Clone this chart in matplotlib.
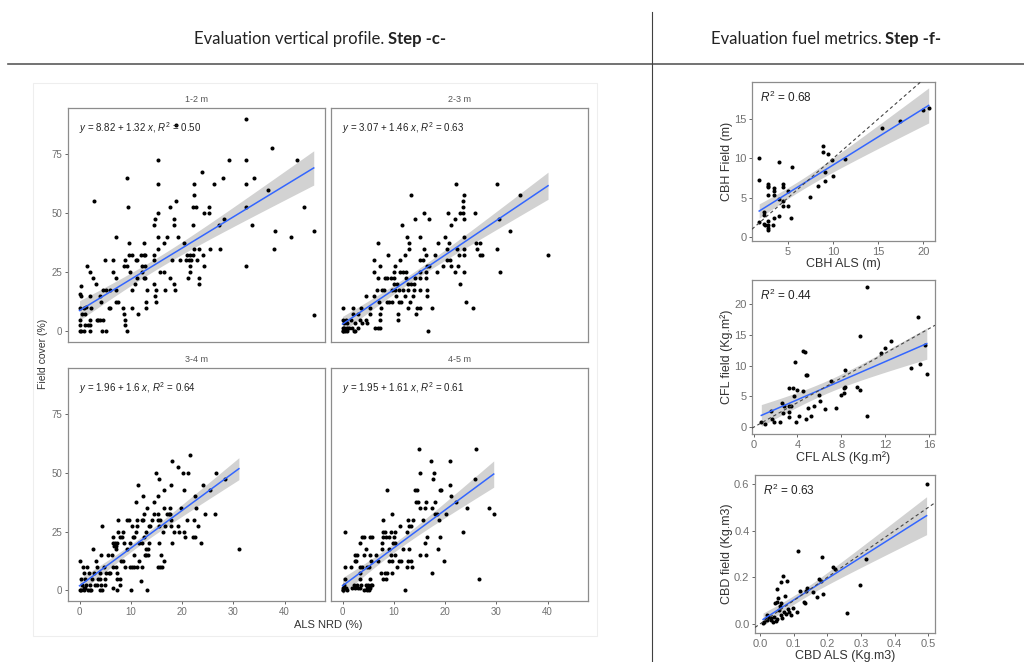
import numpy as np
import matplotlib
matplotlib.use("Agg")
import matplotlib.pyplot as plt
from matplotlib.patches import Rectangle
from matplotlib.lines import Line2D

# ---- data ----------------------------------------------------------------
facet_names = ["1-2 m", "2-3 m", "3-4 m", "4-5 m"]
facet_a = [8.82, 3.07, 1.96, 1.95]
facet_b = [1.32, 1.46, 1.6, 1.61]
facet_r2 = ["0.50", "0.63", "0.64", "0.61"]

pts_12 = [(32.4,90),(18.9,87.5),(37.5,77.5),(15.4,72.5),(29.2,72.5),(32.4,72.5),(42.5,72.5),(23.9,67.5),
    (9.2,65),(28.0,65),(34.0,65),(15.4,62.5),(22.4,62.5),(26.3,62.5),(32.4,62.5),(36.7,60),(22.4,57.5),
    (2.9,55),(18.9,55),(9.4,52.5),(17.6,52.5),(22.1,52.5),(22.8,52.5),(25.3,52.5),(32.4,52.5),(43.8,52.5),
    (15.4,50),(24.2,50),(25.3,50),(14.8,47.5),(18.4,47.5),(28.1,47.5),(14.5,45),(18.4,45),(22.1,45),
    (27.2,45),(33.6,45),(38.1,42.5),(45.7,42.5),(7.2,40),(15.4,40),(17.1,40),(19.3,40),(41.3,40),
    (9.6,37.5),(12.5,37.5),(16.4,37.5),(20.3,37.5),(15.4,35),(22.4,35),(23.3,35),(25.5,35),(27.4,35),
    (37.9,35),(9.6,32.5),(10.2,32.5),(11.9,32.5),(12.5,32.5),(12.8,32.5),(14.6,32.5),(21.0,32.5),
    (21.6,32.5),(22.1,32.5),(24.1,32.5),(4.9,30),(6.5,30),(8.8,30),(11.1,30),(11.3,30),(14.5,30),
    (18.0,30),(19.7,30),(20.7,30),(21.3,30),(21.8,30),(22.9,30),(1.4,27.5),(8.6,27.5),(9.3,27.5),
    (12.2,27.5),(12.8,27.5),(21.6,27.5),(24.2,27.5),(32.4,27.5),(2.0,25),(6.5,25),(9.8,25),(12.2,25),
    (15.8,25),(16.4,25),(21.5,25),(2.6,22.5),(7.2,22.5),(11.2,22.5),(12.6,22.5),(12.8,22.5),(17.7,22.5),
    (21.1,22.5),(23.3,22.5),(3.3,20),(10.9,20),(14.5,20),(18.4,20),(23.3,20),(0.3,19),(4.6,17.5),
    (5.2,17.5),(5.9,17.5),(7.2,17.5),(10.2,17.5),(13.2,17.5),(15.0,17.5),(16.7,17.5),(18.6,17.5),
    (0.0,16),(0.3,15),(2.1,15),(3.9,15),(14.8,15),(4.2,12.5),(7.2,12.5),(7.6,12.5),(13.0,12.5),
    (15.0,12.5),(1.3,10.5),(0.1,10),(0.8,10),(2.2,10),(5.7,10),(6.0,10),(8.5,10),(10.2,10),(13.0,10),
    (0.5,7.5),(1.1,7.5),(8.6,7.5),(11.5,7.5),(45.7,7),(0.0,5),(2.1,5),(3.4,5),(3.7,5),(4.0,5),(4.6,5),
    (8.9,5),(0.0,2.5),(1.1,2.5),(1.6,2.5),(2.0,2.5),(8.9,2.5),(0.0,0),(0.3,0),(0.9,0),(2.1,0),(4.4,0),
    (5.2,0),(9.3,0)]

pts_23 = [(22.2,62.5),(30.2,62.5),(13.3,57.5),(23.7,57.5),(34.7,57.5),(23.5,55),(23.5,52.5),(15.9,50),
    (20.6,50),(23.0,50),(23.5,50),(25.8,50),(14.1,47.5),(16.8,47.5),(22.0,47.5),(23.7,47.5),(30.5,47.5),
    (11.6,45),(21.1,45),(32.7,42.5),(12.6,40),(15.1,40),(19.9,40),(23.7,40),(7.0,37.5),(12.9,37.5),
    (18.6,37.5),(20.7,37.5),(26.0,37.5),(26.9,37.5),(12.9,35),(15.9,35),(20.4,35),(22.4,35),(23.7,35),
    (26.3,35),(30.2,35),(8.8,32.5),(12.1,32.5),(16.2,32.5),(18.1,32.5),(22.7,32.5),(23.7,32.5),
    (26.8,32.5),(27.3,32.5),(40.1,32.5),(6.2,30),(11.2,30),(15.1,30),(15.7,30),(20.3,30),(20.9,30),
    (7.3,27.5),(10.3,27.5),(16.5,27.5),(16.8,27.5),(19.6,27.5),(21.1,27.5),(22.5,27.5),(6.1,25),
    (10.0,25),(11.3,25),(11.8,25),(12.3,25),(15.2,25),(16.2,25),(18.5,25),(22.0,25),(23.7,25),(30.7,25),
    (6.9,22.5),(8.3,22.5),(8.7,22.5),(9.4,22.5),(10.1,22.5),(12.3,22.5),(14.2,22.5),(15.1,22.5),
    (16.2,22.5),(10.1,20),(10.7,20),(12.7,20),(13.3,20),(13.9,20),(23.0,20),(6.8,17.5),(7.7,17.5),
    (8.1,17.5),(9.7,17.5),(10.3,17.5),(11.0,17.5),(11.8,17.5),(12.7,17.5),(14.0,17.5),(15.2,17.5),
    (16.4,17.5),(4.5,15),(6.1,15),(10.5,15),(12.1,15),(13.8,15),(16.4,15),(7.1,12.5),(8.7,12.5),
    (9.0,12.5),(9.7,12.5),(11.0,12.5),(11.4,12.5),(13.1,12.5),(24.1,12.5),(0.1,10),(2.1,10),(3.6,10),
    (5.3,10),(7.6,10),(12.7,10),(14.6,10),(15.2,10),(17.5,10),(25.4,10),(2.1,7.5),(3.0,7.5),(5.3,7.5),
    (7.3,7.5),(10.8,7.5),(14.4,7.5),(0.1,5),(0.6,5),(1.6,5),(3.5,5),(4.5,5),(7.4,5),(10.8,5),(0.3,3.5),
    (0.9,3.5),(2.5,3.5),(3.8,3.5),(4.8,3.5),(0.0,1.5),(0.3,1.5),(0.8,1.5),(1.2,1.5),(1.9,1.5),(3.0,1.5),
    (6.4,1.5),(6.9,1.5),(7.3,1.5),(0.0,0),(0.1,0),(0.4,0),(0.9,0),(2.2,0),(2.5,0),(16.7,0)]

pts_34 = [(21.5,57.5),(18.0,55),(19.2,52.5),(14.9,50),(20.1,50),(21.1,50),(26.7,50),(15.5,47.5),
    (28.4,47.5),(11.5,45),(17.8,45),(24.0,45),(16.4,42.5),(20.4,42.5),(25.4,42.5),(12.3,40),(15.3,40),
    (22.5,40),(11.1,37.5),(14.6,37.5),(13.2,35),(16.4,35),(17.7,35),(19.8,35),(22.7,35),(12.6,32.5),
    (14.5,32.5),(15.4,32.5),(17.1,32.5),(17.5,32.5),(17.7,32.5),(24.4,32.5),(26.4,32.5),(7.5,30),
    (9.3,30),(9.6,30),(11.3,30),(12.1,30),(12.4,30),(14.1,30),(15.4,30),(15.8,30),(17.8,30),(21.0,30),
    (22.3,30),(4.3,27.5),(10.2,27.5),(11.3,27.5),(13.5,27.5),(13.7,27.5),(15.5,27.5),(16.7,27.5),
    (17.9,27.5),(19.2,27.5),(23.1,27.5),(7.5,25),(8.5,25),(11.1,25),(13.0,25),(16.3,25),(18.4,25),
    (19.5,25),(20.3,25),(6.6,22.5),(7.8,22.5),(8.3,22.5),(10.4,22.5),(10.7,22.5),(12.6,22.5),(20.5,22.5),
    (22.1,22.5),(22.5,22.5),(6.6,20),(7.0,20),(7.4,20),(8.7,20),(9.9,20),(11.7,20),(12.2,20),(13.6,20),
    (15.6,20),(18.0,20),(23.7,20),(6.8,19),(7.2,19),(2.6,17.5),(7.1,17.5),(9.3,17.5),(13.0,17.5),
    (13.4,17.5),(31.1,17.5),(4.2,15),(5.5,15),(6.3,15),(10.7,15),(12.7,15),(13.0,15),(13.4,15),(15.9,15),
    (0.0,12.5),(3.3,12.5),(8.1,12.5),(8.5,12.5),(11.7,12.5),(16.5,12.5),(0.7,10),(1.4,10),(3.5,10),
    (4.7,10),(6.5,10),(7.2,10),(8.9,10),(9.8,10),(10.2,10),(10.7,10),(11.2,10),(12.1,10),(15.4,10),
    (15.8,10),(16.1,10),(0.8,7.5),(1.8,7.5),(2.9,7.5),(4.0,7.5),(5.2,7.5),(5.7,7.5),(6.0,7.5),(7.4,7.5),
    (0.3,5),(1.1,5),(2.4,5),(3.7,5),(4.0,5),(5.0,5),(7.4,5),(7.8,5),(11.9,3.8),(0.5,2.5),(1.3,2.5),
    (2.0,2.5),(3.1,2.5),(3.4,2.5),(4.2,2.5),(5.0,2.5),(7.9,2.5),(0.8,1),(1.1,1),(6.6,1),(0.0,0),(0.3,0),
    (0.8,0),(1.6,0),(2.1,0),(2.3,0),(4.0,0),(4.4,0),(7.4,0),(10.1,0),(13.2,0)]

pts_45 = [(15.0,60),(26.1,60),(17.3,55),(20.9,55),(15.1,50),(17.8,50),(17.7,47.5),(25.8,47.5),(20.9,45),
    (8.7,42.5),(14.1,42.5),(14.6,42.5),(19.0,42.5),(19.3,42.5),(21.2,40),(14.4,37.5),(14.7,37.5),
    (16.2,37.5),(18.0,37.5),(22.1,37.5),(15.1,35),(16.0,35),(17.5,35),(24.2,35),(28.6,35),(9.6,32.5),
    (18.0,32.5),(18.5,32.5),(20.1,32.5),(29.5,32.5),(7.8,30),(12.7,30),(13.8,30),(15.7,30),(18.9,30),
    (11.2,27.5),(12.9,27.5),(13.4,27.5),(0.4,25),(7.8,25),(8.3,25),(9.4,25),(10.3,25),(12.5,25),
    (23.5,25),(3.8,22.5),(4.2,22.5),(5.3,22.5),(5.8,22.5),(7.8,22.5),(8.4,22.5),(9.0,22.5),(10.0,22.5),
    (16.5,22.5),(19.0,22.5),(3.5,20),(7.7,20),(9.9,20),(10.3,20),(16.1,20),(4.5,17.5),(7.7,17.5),
    (9.0,17.5),(11.8,17.5),(12.9,17.5),(18.7,17.5),(2.4,15),(2.9,15),(4.2,15),(5.3,15),(6.6,15),(9.5,15),
    (10.3,15),(15.1,15),(16.2,15),(2.5,12.5),(2.7,12.5),(5.6,12.5),(6.9,12.5),(9.0,12.5),(9.7,12.5),
    (11.0,12.5),(11.4,12.5),(12.7,12.5),(13.3,12.5),(19.8,12.5),(0.4,10),(1.6,10),(3.4,10),(3.8,10),
    (4.8,10),(5.1,10),(10.7,10),(12.5,10),(13.5,10),(3.4,7.5),(7.6,7.5),(8.3,7.5),(8.7,7.5),(9.7,7.5),
    (17.5,7.5),(0.4,5),(3.5,5),(5.3,5),(7.9,5),(8.4,5),(26.7,5),(0.3,2.5),(2.2,2.5),(2.9,2.5),(3.6,2.5),
    (4.5,2.5),(4.9,2.5),(5.5,2.5),(5.8,2.5),(0.0,1),(0.6,1),(1.9,1),(2.5,1),(3.0,1),(3.4,1),(4.8,1),
    (5.3,1),(0.0,0),(0.1,0),(0.9,0),(4.2,0),(4.8,0),(5.1,0),(12.1,0)]

cbh_pts = [(20.6,16.4),(20.0,16.2),(17.4,14.7),(15.4,13.9),(8.9,11.6),(8.9,10.8),(9.4,10.6),(9.9,9.8),
    (11.3,9.9),(1.8,10.0),(4.0,9.5),(5.4,8.9),(9.1,8.3),(10.0,7.8),(9.1,7.1),(8.3,6.5),(7.4,5.1),
    (1.8,7.3),(5.0,5.9),(2.8,6.8),(2.8,6.5),(2.8,6.3),(2.8,5.4),(3.4,6.2),(3.4,5.9),(3.4,5.4),(4.4,6.8),
    (4.4,6.4),(4.0,4.8),(4.4,4.6),(4.4,3.9),(5.0,3.9),(4.0,2.7),(3.4,2.4),(5.3,2.4),(2.3,3.2),(2.3,2.8),
    (1.8,1.9),(2.3,1.7),(2.4,1.5),(2.8,2.0),(2.8,1.5),(2.8,1.1),(2.8,0.9),(3.3,1.5)]

cfl_pts = [(10.3,22.8),(15.0,17.9),(9.7,14.8),(12.5,14.0),(12.0,12.8),(11.6,12.1),(4.5,12.4),(4.7,12.2),
    (15.6,13.4),(3.8,10.6),(14.4,9.6),(15.2,10.3),(15.8,8.7),(8.3,9.3),(4.9,8.4),(4.8,8.4),(7.1,7.5),
    (3.2,6.4),(3.6,6.4),(4.0,6.1),(8.3,6.5),(8.2,6.3),(9.4,6.5),(9.7,6.1),(4.5,5.8),(8.0,5.3),(8.2,5.5),
    (6.0,5.3),(3.7,5.1),(6.1,4.2),(2.6,3.9),(3.2,3.5),(3.4,3.4),(2.8,3.4),(5.5,3.5),(5.0,3.1),(7.5,3.2),
    (6.5,2.9),(1.6,2.7),(3.2,2.4),(2.7,2.3),(5.2,1.9),(4.1,1.8),(3.2,1.7),(4.8,1.4),(10.3,1.8),(1.7,1.4),
    (1.9,0.8),(2.4,0.9),(3.9,0.9),(0.7,0.8),(1.0,0.5)]

cbd_pts = [(0.495,0.600),(0.113,0.313),(0.184,0.289),(0.217,0.246),(0.224,0.234),(0.315,0.277),
    (0.296,0.167),(0.258,0.046),(0.069,0.206),(0.079,0.186),(0.061,0.181),(0.175,0.191),(0.181,0.184),
    (0.140,0.156),(0.138,0.143),(0.120,0.143),(0.158,0.136),(0.168,0.117),(0.186,0.129),(0.130,0.096),
    (0.135,0.091),(0.074,0.121),(0.049,0.150),(0.053,0.110),(0.049,0.093),(0.043,0.089),(0.061,0.089),
    (0.059,0.079),(0.099,0.067),(0.110,0.053),(0.083,0.063),(0.071,0.053),(0.056,0.060),(0.061,0.039),
    (0.076,0.043),(0.091,0.039),(0.066,0.024),(0.041,0.031),(0.022,0.039),(0.027,0.031),(0.032,0.024),
    (0.034,0.017),(0.022,0.017),(0.012,0.010),(0.009,0.006),(0.017,0.020),(0.051,0.020),(0.046,0.014),
    (0.039,0.010),(0.086,0.049)]

fuel_a = [2.02, 1.38, 0.011]
fuel_b = [0.714, 0.772, 0.916]
fuel_r2 = ["0.68", "0.44", "0.63"]
fuel_xlabels = ["CBH ALS (m)", "CFL ALS (Kg.m\u00b2)", "CBD ALS (Kg.m3)"]
fuel_ylabels = ["CBH Field (m)", "CFL field (Kg.m\u00b2)", "CBD field (Kg.m3)"]
fuel_xticks = [[5, 10, 15, 20], [0, 4, 8, 12, 16], [0.0, 0.1, 0.2, 0.3, 0.4, 0.5]]
fuel_yticks = [[0, 5, 10, 15], [0, 5, 10, 15, 20], [0.0, 0.2, 0.4, 0.6]]

# ---- figure -----------------------------------------------------------------
W, H = 1024, 662
plt.rcParams['font.family'] = 'Liberation Sans'
plt.rcParams['mathtext.fontset'] = 'custom'
plt.rcParams['mathtext.rm'] = 'Liberation Sans'
plt.rcParams['mathtext.it'] = 'Liberation Sans:italic'

fig = plt.figure(figsize=(W / 100, H / 100), dpi=100)
fig.patch.set_facecolor('white')

def px_axes(x0, y0, x1, y1):
    return fig.add_axes([x0 / W, 1 - y1 / H, (x1 - x0) / W, (y1 - y0) / H])

def px_rect(x0, y0, x1, y1, ec):
    fig.add_artist(Rectangle((x0 / W, 1 - y1 / H), (x1 - x0) / W, (y1 - y0) / H,
                             transform=fig.transFigure, fc='white', ec=ec, lw=0.8, zorder=0))

def style(ax, size=7):
    for s in ax.spines.values():
        s.set_color('#8c8c8c')
        s.set_linewidth(0.9)
    ax.tick_params(length=2.5, width=0.7, color='#666666', labelsize=size,
                   labelcolor='#707070', pad=1.5)

def fit_plot(ax, pts, a, b):
    p = np.array(pts)
    x, y = p[:, 0], p[:, 1]
    xs = np.linspace(x.min(), x.max(), 100)
    fit = a + b * xs
    n = len(x)
    s = np.sqrt(((y - (a + b * x)) ** 2).sum() / (n - 2))
    sxx = ((x - x.mean()) ** 2).sum()
    se = s * np.sqrt(1 / n + (xs - x.mean()) ** 2 / sxx)
    ax.fill_between(xs, fit - 1.98 * se, fit + 1.98 * se, color='#d2d2d2', lw=0, zorder=1)
    ax.scatter(x, y, s=8.5, c='black', lw=0, zorder=2)
    ax.plot(xs, fit, color='#3366FF', lw=1.1, zorder=3)

# header lines and titles
fig.add_artist(Line2D([8 / W, 1], [1 - 64 / H, 1 - 64 / H], color='#5a5a5a', lw=1.2))
fig.add_artist(Line2D([652 / W, 652 / W], [1 - 12 / H, 0], color='#404040', lw=0.8))

renderer = fig.canvas.get_renderer()
def header(cx, cy, normal, bold):
    t1 = fig.text(0, 1 - cy / H, normal, fontsize=12, family='Lato', va='center', color='#222222')
    t2 = fig.text(0, 1 - cy / H, bold, fontsize=12, family='Lato', fontweight='bold',
                  va='center', color='#222222')
    w1 = t1.get_window_extent(renderer).width
    w2 = t2.get_window_extent(renderer).width
    gap = 4
    x0 = cx - (w1 + gap + w2) / 2
    t1.set_x(x0 / W)
    t2.set_x((x0 + w1 + gap) / W)

header(320, 39, "Evaluation vertical profile.", "Step -c-")
header(826, 39, "Evaluation fuel metrics.", "Step -f-")

# faint frame of the pasted figure
px_rect(33, 83, 597, 636, '#eeeeee')

# ---- left: faceted vertical profile ----------------------------------------
facet_pts = [pts_12, pts_23, pts_34, pts_45]
facet_rects = [(68, 108, 325, 342), (331, 108, 588, 342), (68, 368, 325, 601), (331, 368, 588, 601)]
for i, rect in enumerate(facet_rects):
    ax = px_axes(*rect)
    fit_plot(ax, facet_pts[i], facet_a[i], facet_b[i])
    ax.set_xlim(-2.25, 47.9)
    ax.set_ylim(-4.5, 94.5)
    ax.set_xticks([0, 10, 20, 30, 40])
    ax.set_yticks([0, 25, 50, 75])
    style(ax)
    if i % 2 == 1:
        ax.tick_params(axis='y', left=False, labelleft=False)
    if i < 2:
        ax.tick_params(axis='x', bottom=False, labelbottom=False)
    ax.text(0.5, 1.038, facet_names[i], transform=ax.transAxes, ha='center', va='center',
            fontsize=6.5, color='#555555')
    eq = r"$y$ = %g + %g $x$, $R^2$ = %s" % (facet_a[i], facet_b[i], facet_r2[i])
    ax.text(0.043, 0.915, eq, transform=ax.transAxes, fontsize=7, va='center', color='#222222')

fig.text(328 / W, 1 - 625 / H, "ALS NRD (%)", ha='center', va='center', fontsize=8, color='#333333')
fig.text(43 / W, 1 - 354 / H, "Field cover (%)", ha='center', va='center', rotation=90,
         fontsize=7.5, color='#333333')

# ---- right: fuel metrics ---------------------------------------------------
fuel_pts = [cbh_pts, cfl_pts, cbd_pts]
fuel_rects = [(752, 82, 935, 241), (752, 280, 935, 434), (755, 475, 935, 633)]
fuel_xlim = [(1.0, 21.3), (-0.15, 16.55), (-0.015, 0.52)]
fuel_ylim = [(-0.5, 19.7), (-1.1, 23.9), (-0.039, 0.639)]
for i, rect in enumerate(fuel_rects):
    ax = px_axes(*rect)
    fit_plot(ax, fuel_pts[i], fuel_a[i], fuel_b[i])
    ax.axline((0, 0), slope=1, ls=(0, (3, 2.5)), color='#444444', lw=0.8, zorder=4)
    ax.set_xlim(*fuel_xlim[i])
    ax.set_ylim(*fuel_ylim[i])
    ax.set_xticks(fuel_xticks[i])
    ax.set_yticks(fuel_yticks[i])
    style(ax, size=8)
    ax.set_xlabel(fuel_xlabels[i], fontsize=9, color='#333333', labelpad=1)
    ax.set_ylabel(fuel_ylabels[i], fontsize=9, color='#333333', labelpad=1)
    ax.text(0.044, 0.9, r"$R^2$ = " + fuel_r2[i], transform=ax.transAxes, fontsize=8.5,
            va='center', color='#222222')

fig.savefig("out.png", dpi=100)
